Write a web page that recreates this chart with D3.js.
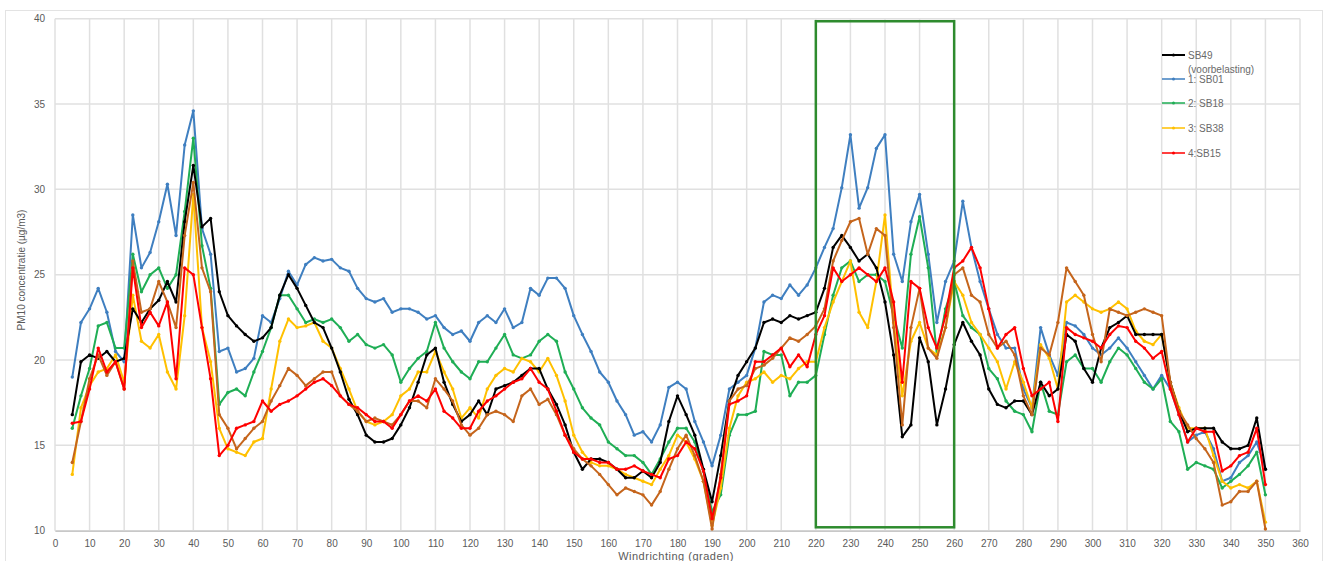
<!DOCTYPE html>
<html>
<head>
<meta charset="utf-8">
<script src="https://cdn.jsdelivr.net/npm/d3@7"></script>
<style>
  body { margin: 0; background: #fff; }
  svg { font-family: "Liberation Sans", Arial, sans-serif; }
</style>
</head>
<body>
<div id="pm10_chart"></div>
<script>
// wind direction (degrees), one reading every 2.5 degrees
const windDir = d3.range(139).map((i) => 5 + i * 2.5);

// PM10 (ug/m3) per station
const sb49 = [16.8, 19.9, 20.3, 20.1, 20.5, 19.9, 20.1, 23.0, 22.2, 23.0, 23.5, 24.6, 23.4, 28.1, 31.4, 27.8, 28.3, 24.0, 22.6, 22.0, 21.5, 21.1, 21.3,
  21.9, 23.8, 25.0, 24.2, 23.2, 22.2, 21.9, 20.7, 19.3, 17.7, 16.8, 15.6, 15.2, 15.2, 15.4, 16.2, 17.2, 18.7, 20.3, 20.7, 18.7, 17.4, 16.4,
  16.8, 17.6, 16.8, 18.3, 18.5, 18.7, 19.1, 19.5, 19.5, 18.3, 17.4, 16.2, 14.6, 13.6, 14.2, 14.2, 14.0, 13.6, 13.1, 13.1, 13.5, 13.1, 14.0, 16.4,
  17.9, 16.8, 15.6, 13.6, 11.7, 14.4, 17.6, 19.1, 19.9, 20.7, 22.2, 22.4, 22.2, 22.6, 22.4, 22.6, 22.8, 24.2, 26.6, 27.3, 26.6, 25.8, 26.2, 25.4, 23.4,
  20.3, 15.5, 16.2, 21.3, 19.9, 16.2, 18.3, 20.9, 22.2, 21.1, 20.3, 18.3, 17.4, 17.2, 17.6, 17.6, 16.8, 18.7, 17.9, 18.3, 21.5, 21.1, 19.5, 18.7,
  20.7, 21.9, 22.2, 22.6, 21.5, 21.5, 21.5, 21.5, 18.7, 17.0, 15.8, 16.0, 16.0, 16.0, 15.2, 14.8, 14.8, 15.0, 16.6, 13.6];

const sb01 = [19.0, 22.2, 23.0, 24.2, 22.8, 20.5, 19.9, 28.5, 25.4, 26.3, 28.1, 30.3, 27.3, 32.6, 34.6, 27.7, 26.2, 20.5, 20.7, 19.3, 19.5, 20.1, 22.6,
  22.2, 23.6, 25.2, 24.4, 25.6, 26.0, 25.8, 25.9, 25.4, 25.2, 24.2, 23.6, 23.4, 23.6, 22.8, 23.0, 23.0, 22.8, 22.4, 22.6, 21.9, 21.5, 21.7,
  21.1, 22.2, 22.6, 22.2, 23.0, 21.9, 22.2, 24.2, 23.8, 24.8, 24.8, 24.2, 22.6, 21.5, 20.5, 19.3, 18.7, 17.6, 16.8, 15.6, 15.8, 15.2, 16.2, 18.4,
  18.7, 18.3, 16.4, 15.2, 13.8, 15.6, 18.3, 18.7, 19.1, 20.7, 23.4, 23.8, 23.6, 24.4, 23.8, 24.4, 25.4, 26.6, 27.7, 30.1, 33.2, 28.9, 30.1, 32.4, 33.2,
  26.2, 24.6, 28.1, 29.7, 26.2, 22.2, 24.6, 25.8, 29.3, 26.6, 24.6, 23.0, 21.5, 20.7, 20.7, 18.3, 17.2, 21.9, 20.3, 19.1, 22.2, 22.0, 21.5, 20.7,
  20.3, 20.7, 21.3, 20.7, 19.9, 19.1, 18.3, 19.1, 18.3, 16.8, 15.2, 15.6, 15.8, 14.8, 12.9, 13.1, 14.0, 14.4, 15.2, 13.6];

const sb18 = [16.0, 17.9, 19.5, 22.0, 22.2, 20.7, 20.7, 26.2, 24.0, 25.0, 25.4, 24.2, 25.0, 28.7, 33.0, 26.7, 24.2, 17.4, 18.1, 18.3, 17.9, 19.3, 20.5,
  21.9, 23.8, 23.8, 23.0, 22.2, 22.4, 22.2, 22.4, 21.9, 21.1, 21.5, 20.9, 20.7, 20.9, 20.3, 18.7, 19.5, 20.1, 20.5, 22.2, 20.7, 19.9, 19.3,
  18.9, 19.9, 19.9, 20.7, 21.5, 20.3, 20.1, 20.3, 21.1, 21.5, 21.1, 19.3, 18.3, 17.2, 16.6, 16.2, 15.2, 14.8, 14.4, 14.4, 14.0, 13.3, 14.2, 15.2,
  16.0, 16.0, 15.2, 13.5, 11.1, 12.1, 15.6, 16.8, 16.8, 17.0, 20.5, 20.3, 20.3, 17.9, 18.7, 18.7, 19.1, 21.5, 23.8, 25.4, 25.8, 24.6, 25.0, 25.0, 24.6,
  22.6, 20.7, 26.2, 28.4, 25.4, 20.3, 23.0, 24.6, 22.6, 21.9, 21.5, 19.5, 18.9, 17.6, 17.0, 16.8, 15.8, 18.7, 17.0, 16.8, 19.9, 20.3, 19.5, 19.5,
  18.7, 19.9, 20.7, 20.3, 19.5, 18.7, 18.3, 18.9, 16.4, 15.8, 13.6, 14.0, 13.8, 13.6, 12.5, 12.9, 13.3, 13.8, 14.6, 12.1];

const sb38 = [13.3, 17.2, 18.5, 19.3, 19.5, 20.3, 18.7, 23.8, 21.1, 20.7, 21.5, 19.3, 18.3, 22.6, 29.7, 21.9, 19.9, 16.0, 14.8, 14.6, 14.4, 15.2, 15.4,
  18.3, 21.1, 22.4, 21.9, 22.0, 22.2, 21.1, 20.7, 19.5, 18.3, 17.0, 16.4, 16.2, 16.4, 16.8, 17.9, 18.3, 19.3, 19.3, 20.5, 19.3, 18.3, 16.6,
  17.2, 16.6, 18.3, 19.1, 19.5, 19.3, 20.1, 19.9, 19.3, 20.1, 19.1, 17.6, 15.6, 14.6, 14.0, 13.8, 13.8, 13.6, 13.3, 13.1, 12.9, 12.7, 13.6, 14.4,
  15.6, 15.2, 14.2, 12.9, 10.3, 12.5, 16.0, 17.9, 18.7, 18.9, 19.3, 18.7, 19.1, 18.9, 19.5, 19.9, 19.9, 21.9, 23.4, 24.6, 25.8, 22.8, 21.9, 24.6, 28.5,
  22.2, 17.9, 21.1, 22.2, 20.7, 20.3, 21.9, 24.6, 23.8, 22.2, 21.5, 20.7, 19.9, 18.3, 19.9, 18.7, 17.2, 20.9, 20.1, 18.3, 23.4, 23.8, 23.4, 23.0,
  22.8, 23.0, 23.4, 23.0, 21.7, 21.1, 20.9, 21.5, 18.7, 17.2, 16.0, 16.0, 16.0, 14.4, 12.9, 12.5, 12.7, 12.5, 12.9, 10.5];

const sb15 = [16.3, 16.4, 18.3, 20.7, 19.3, 19.9, 18.3, 25.4, 21.9, 22.8, 22.0, 23.4, 18.9, 25.4, 25.0, 21.9, 18.9, 14.4, 15.0, 16.0, 16.2, 16.4, 17.6,
  17.0, 17.4, 17.6, 17.9, 18.3, 18.7, 18.9, 18.5, 17.9, 17.4, 17.2, 16.8, 16.4, 16.4, 16.0, 16.8, 17.6, 17.9, 17.6, 18.3, 17.0, 16.6, 16.0,
  16.0, 17.0, 17.6, 17.9, 18.3, 18.7, 18.9, 19.5, 18.7, 18.3, 17.0, 15.6, 14.6, 14.2, 14.2, 14.0, 14.0, 13.6, 13.6, 13.8, 13.5, 13.3, 13.1, 14.2,
  14.4, 15.2, 14.8, 13.5, 10.7, 13.1, 17.4, 17.6, 17.9, 19.9, 19.9, 20.3, 20.7, 19.6, 20.3, 19.6, 21.5, 22.6, 25.4, 24.6, 25.0, 25.4, 25.0, 24.6, 25.4,
  23.4, 18.7, 24.6, 24.2, 21.9, 20.7, 22.6, 25.4, 25.8, 26.6, 25.4, 23.0, 20.7, 21.5, 21.9, 19.5, 17.9, 18.3, 18.7, 16.4, 21.9, 21.5, 21.3, 21.1,
  20.7, 21.5, 22.0, 21.9, 21.1, 20.7, 20.1, 20.5, 18.3, 16.8, 15.2, 16.0, 15.8, 15.8, 13.5, 13.8, 14.4, 14.6, 16.0, 12.7];

// sixth station, drawn but not in the legend
const sbExtra = [14.0, 16.4, 18.9, 20.3, 19.1, 19.9, 18.3, 25.8, 22.8, 23.0, 24.6, 23.4, 21.9, 27.3, 30.4, 25.4, 24.0, 16.8, 16.0, 14.8, 15.4, 16.0, 16.4,
  17.6, 18.5, 19.5, 19.1, 18.5, 18.9, 19.3, 19.3, 17.9, 17.4, 17.0, 16.4, 16.6, 16.4, 16.2, 16.8, 17.6, 17.6, 17.2, 18.9, 18.3, 17.6, 16.2,
  15.6, 16.0, 16.8, 17.0, 16.8, 16.4, 17.9, 18.3, 17.4, 17.7, 16.8, 15.6, 14.8, 14.2, 13.8, 13.3, 12.7, 12.1, 12.5, 12.3, 12.1, 11.5, 12.3, 13.6,
  14.8, 15.6, 14.4, 12.9, 10.1, 13.3, 17.6, 18.3, 18.5, 19.5, 19.7, 20.1, 20.7, 21.3, 21.1, 21.5, 22.0, 23.0, 25.8, 27.0, 28.1, 28.3, 26.2, 27.7, 27.3,
  21.9, 16.2, 21.9, 24.2, 20.7, 20.1, 21.9, 25.0, 25.4, 23.8, 23.4, 21.5, 20.7, 21.1, 20.3, 17.9, 16.8, 20.7, 20.3, 22.2, 25.4, 24.6, 23.8, 21.5,
  19.9, 23.0, 22.8, 22.6, 22.8, 23.0, 22.8, 22.6, 18.7, 17.0, 16.2, 15.4, 14.8, 14.0, 11.5, 11.7, 12.3, 12.3, 12.9, 10.1];

const seriesNames = ["SB49", "1:  SB01", "2: SB18", "3: SB38", "4:SB15", ""];
const seriesValues = [sb49, sb01, sb18, sb38, sb15, sbExtra];
const seriesColors = ["#000000", "#3f7fc0", "#1fae55", "#ffc000", "#ff0000", "#c5651c"];
// draw order: back to front
const drawOrder = [1, 2, 3, 0, 5, 4];

const xTicks = d3.range(0, 361, 10);
const yTicks = d3.range(10, 41, 5);
const highlight = [220, 260]; // wind sector in green box

const W = 1328, H = 561;
const margin = { top: 18.7, right: 28, bottom: 30.3, left: 55 };
const width = W - margin.left - margin.right,
  height = H - margin.top - margin.bottom;

const root = d3.select("#pm10_chart").append("svg")
  .attr("width", W).attr("height", H);

// chart frame
root.append("rect")
  .attr("x", 5.5).attr("y", 10.5)
  .attr("width", 1317).attr("height", 560)
  .attr("fill", "none").attr("stroke", "#e3e3e3").attr("stroke-width", 1);

const svg = root.append("g")
  .attr("transform", "translate(" + margin.left + "," + margin.top + ")");

const x = d3.scaleLinear().domain([0, 360]).range([0, width]);
const y = d3.scaleLinear().domain([10, 40]).range([height, 0]);

// grid
svg.append("g").selectAll("line").data(xTicks).join("line")
  .attr("x1", (d) => x(d)).attr("x2", (d) => x(d))
  .attr("y1", 0).attr("y2", height)
  .attr("stroke", "#e0e0e0").attr("stroke-width", 1.5);
svg.append("g").selectAll("line").data(yTicks).join("line")
  .attr("x1", 0).attr("x2", width)
  .attr("y1", (d) => y(d)).attr("y2", (d) => y(d))
  .attr("stroke", "#e0e0e0").attr("stroke-width", 1.5);

// axes
const xAxis = svg.append("g")
  .attr("transform", "translate(0," + height + ")")
  .call(d3.axisBottom(x).tickValues(xTicks).tickSize(0).tickPadding(9));
const yAxis = svg.append("g")
  .call(d3.axisLeft(y).tickValues(yTicks).tickSize(0).tickPadding(10));
[xAxis, yAxis].forEach((a) => {
  a.select(".domain").attr("stroke", "#c8c8c8").attr("stroke-width", 1.5);
  a.selectAll("text").attr("fill", "#5a5a5a").style("font-size", "10px");
});
yAxis.select(".domain").remove();

// series
const line = d3.line()
  .x((d, i) => x(windDir[i]))
  .y((d) => y(d));

drawOrder.forEach((k) => {
  const g = svg.append("g");
  g.append("path")
    .datum(seriesValues[k])
    .attr("fill", "none")
    .attr("stroke", seriesColors[k])
    .attr("stroke-width", 2)
    .attr("stroke-linejoin", "round")
    .attr("d", line);
  g.selectAll("circle").data(seriesValues[k]).join("circle")
    .attr("cx", (d, i) => x(windDir[i]))
    .attr("cy", (d) => y(d))
    .attr("r", 1.7)
    .attr("fill", seriesColors[k]);
});

// highlighted sector
svg.append("rect")
  .attr("x", x(highlight[0]))
  .attr("y", y(39.85))
  .attr("width", x(highlight[1]) - x(highlight[0]))
  .attr("height", y(10.2) - y(39.85))
  .attr("fill", "none")
  .attr("stroke", "#2e8b2e")
  .attr("stroke-width", 2.5);

// axis titles
root.append("text")
  .attr("transform", "translate(25,270) rotate(-90)")
  .attr("text-anchor", "middle")
  .attr("fill", "#5a5a5a")
  .style("font-size", "10px")
  .text("PM10 concentratie (µg/m3)");
root.append("text")
  .attr("x", 676).attr("y", 560)
  .attr("text-anchor", "middle")
  .attr("fill", "#5a5a5a")
  .style("font-size", "11px")
  .style("letter-spacing", "0.5px")
  .text("Windrichting (graden)");

// legend
const legendY = [55, 79, 103, 128, 153];
const legend = root.append("g");
[0, 1, 2, 3, 4].forEach((k, j) => {
  const ly = legendY[j];
  legend.append("line")
    .attr("x1", 1162).attr("x2", 1185)
    .attr("y1", ly).attr("y2", ly)
    .attr("stroke", seriesColors[k]).attr("stroke-width", 2)
    .attr("opacity", k === 0 ? 1 : 0.75);
  legend.append("circle")
    .attr("cx", 1173.5).attr("cy", ly).attr("r", 1.5)
    .attr("fill", seriesColors[k]);
  legend.append("text")
    .attr("x", 1188).attr("y", ly + 3.5)
    .attr("fill", "#6a6a6a")
    .style("font-size", "10px")
    .text(seriesNames[k]);
});
legend.append("text")
  .attr("x", 1188).attr("y", 72.5)
  .attr("fill", "#6a6a6a")
  .style("font-size", "10px")
  .text("(voorbelasting)");
</script>
</body>
</html>
